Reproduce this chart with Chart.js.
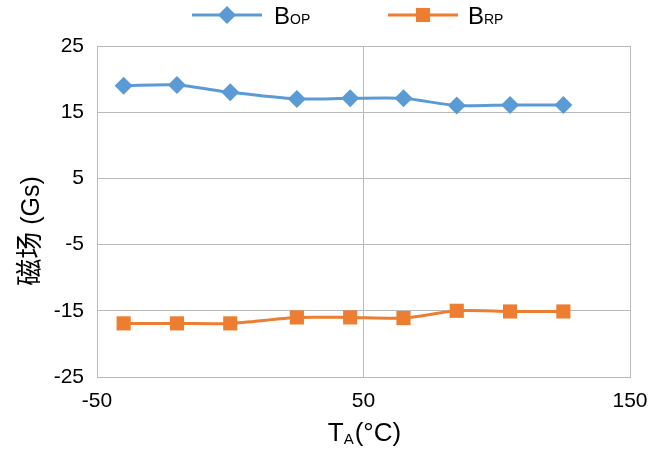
<!DOCTYPE html>
<html>
<head>
<meta charset="utf-8">
<script src="https://cdn.jsdelivr.net/npm/chart.js@4.4.0/dist/chart.umd.min.js"></script>
<style>
  body { margin: 0; background: #fff; }
  #wrap { width: 651px; height: 454px; position: relative; }
</style>
</head>
<body>
<div id="wrap"><canvas id="graph"></canvas></div>
<script>
const temps = [-40, -20, 0, 25, 45, 65, 85, 105, 125];
const bop = [19.0, 19.1, 18.0, 17.0, 17.1, 17.1, 16.0, 16.1, 16.1];
const brp = [-16.9, -16.9, -16.9, -16.0, -16.0, -16.1, -15.0, -15.1, -15.1];
const xTicks = [-50, 50, 150];
const yTicks = [-25, -15, -5, 5, 15, 25];

const blue = '#5B9BD5', orange = '#ED7D31';
const gridColor = '#b9b9b9';
const latin = '"Liberation Sans", Arial, sans-serif';
const cjk = '"Noto Sans CJK SC", sans-serif';

// text with a subscript part, drawn left to right from x
function drawSub(ctx, main, sub, x, y, mainSize, subSize, subDy) {
  ctx.font = mainSize + 'px ' + latin;
  ctx.fillText(main, x, y);
  const w = ctx.measureText(main).width;
  ctx.font = subSize + 'px ' + latin;
  ctx.fillText(sub, x + w, y + subDy);
  return w + ctx.measureText(sub).width;
}

const extras = {
  id: 'extras',
  afterDraw(chart) {
    const ctx = chart.ctx;
    ctx.save();
    ctx.fillStyle = '#000';
    ctx.textBaseline = 'alphabetic';
    ctx.textAlign = 'left';

    // legend
    const items = [
      { color: blue, style: 'rectRot', r: 9, x0: 192, x1: 262, tx: 274, sub: 'OP' },
      { color: orange, style: 'rect', r: 10, x0: 388, x1: 458, tx: 468, sub: 'RP' }
    ];
    items.forEach(it => {
      ctx.strokeStyle = it.color;
      ctx.lineWidth = 3;
      ctx.beginPath();
      ctx.moveTo(it.x0, 15);
      ctx.lineTo(it.x1, 15);
      ctx.stroke();
      ctx.fillStyle = it.color;
      Chart.helpers.drawPoint(ctx, { pointStyle: it.style, radius: it.r, borderWidth: 0 }, (it.x0 + it.x1) / 2, 15);
      ctx.fillStyle = '#000';
      drawSub(ctx, 'B', it.sub, it.tx, 24, 24, 14, 0);
    });

    // x title
    ctx.font = '26px ' + latin;
    const wT = ctx.measureText('T').width;
    ctx.font = '15px ' + latin;
    const wA = ctx.measureText('A').width;
    ctx.font = '26px ' + latin;
    const wR = ctx.measureText('(°C)').width;
    let x = 364 - (wT + wA + wR) / 2;
    drawSub(ctx, 'T', 'A', x, 441, 26, 15, 3);
    ctx.font = '26px ' + latin;
    ctx.fillText('(°C)', x + wT + wA + 1, 441);

    // y title, rotated
    ctx.translate(39, 231);
    ctx.rotate(-Math.PI / 2);
    ctx.font = '27px ' + cjk;
    const w1 = ctx.measureText('磁场').width;
    ctx.font = '25px ' + latin;
    const w2 = ctx.measureText(' (Gs)').width;
    const sx = -(w1 + w2) / 2;
    ctx.font = '27px ' + cjk;
    ctx.fillText('磁场', sx, 0);
    ctx.font = '25px ' + latin;
    ctx.fillText(' (Gs)', sx + w1, 0);
    ctx.restore();
  }
};

new Chart(document.getElementById('graph'), {
  type: 'line',
  data: {
    datasets: [
      {
        label: 'BOP',
        data: temps.map((t, i) => ({ x: t, y: bop[i] })),
        borderColor: blue,
        backgroundColor: blue,
        borderWidth: 3,
        pointStyle: 'rectRot',
        pointRadius: 9,
        pointHoverRadius: 9,
        pointBorderWidth: 0,
        tension: 0.25
      },
      {
        label: 'BRP',
        data: temps.map((t, i) => ({ x: t, y: brp[i] })),
        borderColor: orange,
        backgroundColor: orange,
        borderWidth: 3,
        pointStyle: 'rect',
        pointRadius: 10,
        pointHoverRadius: 10,
        pointBorderWidth: 0,
        tension: 0.25
      }
    ]
  },
  options: {
    responsive: true,
    maintainAspectRatio: false,
    animation: false,
    layout: { padding: { left: 0, top: 46, right: 21, bottom: 0 } },
    plugins: { legend: { display: false }, tooltip: { enabled: false } },
    scales: {
      x: {
        type: 'linear',
        min: -50, max: 150,
        afterBuildTicks: s => { s.ticks = xTicks.map(v => ({ value: v })); },
        afterFit: s => { s.height = 454 - 46 - 331; s.paddingLeft = 0; s.paddingRight = 0; },
        grid: { color: gridColor, lineWidth: 1, drawTicks: false },
        border: { color: gridColor },
        ticks: { color: '#000', font: { family: latin, size: 21 }, padding: 12, maxRotation: 0 }
      },
      y: {
        min: -25, max: 25,
        afterBuildTicks: s => { s.ticks = yTicks.map(v => ({ value: v })); },
        afterFit: s => { s.width = 97; s.paddingTop = 0; s.paddingBottom = 0; },
        grid: { color: gridColor, lineWidth: 1, drawTicks: false },
        border: { color: gridColor },
        ticks: { color: '#000', font: { family: latin, size: 21 }, padding: 13 }
      }
    }
  },
  plugins: [extras]
});
</script>
</body>
</html>
